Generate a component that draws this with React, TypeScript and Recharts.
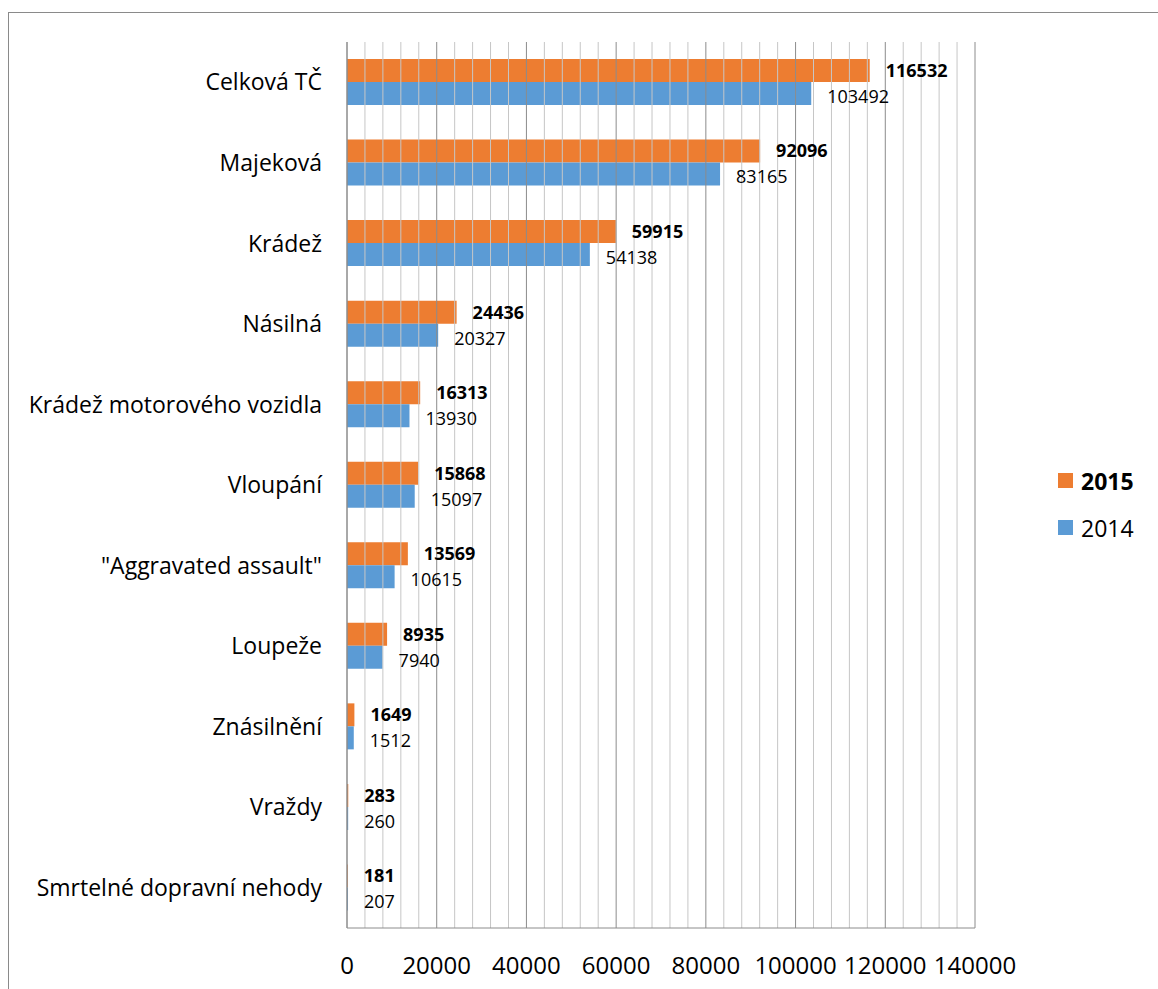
import React from "react";
import {
  BarChart,
  Bar,
  XAxis,
  YAxis,
  LabelList,
  ReferenceLine,
} from "recharts";

const categories = [
  "Celková TČ",
  "Majeková",
  "Krádež",
  "Násilná ",
  "Krádež motorového vozidla",
  "Vloupání",
  "\"Aggravated assault\"",
  "Loupeže",
  "Znásilnění",
  "Vraždy",
  "Smrtelné dopravní nehody",
];
const values2015 = [116532, 92096, 59915, 24436, 16313, 15868, 13569, 8935, 1649, 283, 181];
const values2014 = [103492, 83165, 54138, 20327, 13930, 15097, 10615, 7940, 1512, 260, 207];
const xTicks = [0, 20000, 40000, 60000, 80000, 100000, 120000, 140000];
const gridValues = Array.from({ length: 36 }, (_, i) => i * 4000);

const ORANGE = "#ED7D31";
const BLUE = "#5B9BD5";
const FONT = "'Open Sans', 'Noto Sans', sans-serif";

const data = categories.map((name, i) => ({
  name,
  y2015: values2015[i],
  y2014: values2014[i],
}));

function LegendBox() {
  const items = [
    { label: "2015", color: ORANGE, bold: true },
    { label: "2014", color: BLUE, bold: false },
  ];
  return (
    <div
      style={{
        position: "absolute",
        left: 1058,
        top: 457,
        fontFamily: FONT,
        fontSize: 23,
        color: "#000",
      }}
    >
      {items.map((it) => (
        <div
          key={it.label}
          style={{ display: "flex", alignItems: "center", height: 47 }}
        >
          <span
            style={{
              display: "inline-block",
              width: 15,
              height: 15,
              background: it.color,
              marginRight: 8,
            }}
          />
          <span style={{ fontWeight: it.bold ? 700 : 400 }}>{it.label}</span>
        </div>
      ))}
    </div>
  );
}

export default function App() {
  return (
    <div
      style={{
        position: "absolute",
        left: 0,
        top: 0,
        width: 1158,
        height: 989,
        background: "#fff",
        overflow: "hidden",
      }}
    >
      <div
        style={{
          position: "absolute",
          left: 8,
          top: 12,
          width: 1200,
          height: 1100,
          border: "1px solid #8a8a8a",
        }}
      />
      <BarChart
        width={1158}
        height={989}
        data={data}
        layout="vertical"
        margin={{ top: 42, right: 183, bottom: 11, left: 0 }}
        barSize={23}
        barGap={0}
        style={{ position: "absolute", left: 0, top: 0 }}
      >
        <XAxis
          type="number"
          domain={[0, 140000]}
          ticks={xTicks}
          interval={0}
          tickLine={false}
          axisLine={{ stroke: "#8c8c8c" }}
          tickMargin={23}
          height={50}
          tick={{ fontSize: 24, fill: "#000", fontFamily: FONT }}
        />
        <YAxis
          type="category"
          dataKey="name"
          width={347}
          tickLine={false}
          axisLine={{ stroke: "#8c8c8c" }}
          tickMargin={19}
          interval={0}
          tick={{ fontSize: 23, fill: "#000", fontFamily: FONT }}
        />
        {gridValues.map((v) => (
          <ReferenceLine
            key={v}
            x={v}
            stroke={v % 20000 === 0 ? "#8c8c8c" : "#c6c6c6"}
            strokeWidth={1}
          />
        ))}
        <Bar dataKey="y2015" name="2015" fill={ORANGE} isAnimationActive={false}>
          <LabelList
            dataKey="y2015"
            position="right"
            offset={16}
            style={{ fontSize: 18, fontWeight: 700, fill: "#000", fontFamily: FONT }}
          />
        </Bar>
        <Bar dataKey="y2014" name="2014" fill={BLUE} isAnimationActive={false}>
          <LabelList
            dataKey="y2014"
            position="right"
            offset={16}
            dy={3}
            style={{ fontSize: 18, fill: "#000", fontFamily: FONT }}
          />
        </Bar>
      </BarChart>
      <LegendBox />
    </div>
  );
}
